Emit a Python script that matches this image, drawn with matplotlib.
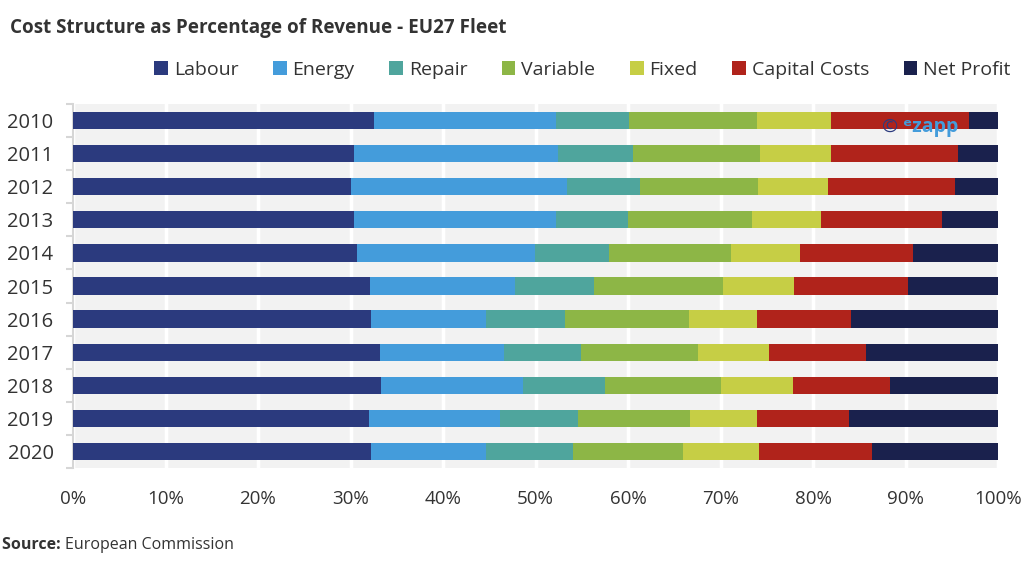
import matplotlib.pyplot as plt
import numpy as np

plt.rcParams['font.family'] = ['Open Sans', 'DejaVu Sans']

years = ["2010", "2011", "2012", "2013", "2014", "2015", "2016", "2017", "2018", "2019", "2020"]

# cumulative end points (%)
labour_end   = [32.5, 30.4, 30.1, 30.4, 30.7, 32.1, 32.2, 33.2, 33.3, 32.0, 32.2]
energy_end   = [52.2, 52.4, 53.4, 52.2, 49.9, 47.8, 44.6, 46.6, 48.6, 46.2, 44.6]
repair_end   = [60.1, 60.5, 61.3, 60.0, 57.9, 56.3, 53.2, 54.9, 57.5, 54.6, 54.1]
variable_end = [73.9, 74.3, 74.0, 73.4, 71.1, 70.3, 66.6, 67.6, 70.1, 66.7, 65.9]
fixed_end    = [81.9, 81.9, 81.6, 80.9, 78.6, 77.9, 73.9, 75.2, 77.8, 73.9, 74.2]
capital_end  = [96.9, 95.7, 95.4, 93.9, 90.8, 90.3, 84.1, 85.7, 88.3, 83.9, 86.4]
total_end    = [100.0] * 11

series = ["Labour", "Energy", "Repair", "Variable", "Fixed", "Capital Costs", "Net Profit"]
colors = ["#2b3a7e", "#449cdb", "#4fa59d", "#8db646", "#c6ce45", "#b0231b", "#1a214d"]

ends = np.array([labour_end, energy_end, repair_end, variable_end, fixed_end, capital_end, total_end])
starts = np.vstack([np.zeros(len(years)), ends[:-1]])
widths = ends - starts

fig = plt.figure(figsize=(10.36, 5.66), dpi=100)
ax = fig.add_axes([73/1036, 1 - 468/566, 925/1036, 364/566])
ax.set_facecolor("#f2f2f2")

y = np.arange(len(years))
for i, name in enumerate(series):
    ax.barh(y, widths[i] / 100, left=starts[i] / 100, height=0.52,
            color=colors[i], label=name, zorder=3)

ax.set_xlim(0, 1)
ax.set_ylim(10.5, -0.5)
ax.set_xticks(np.linspace(0, 1, 11))
ax.set_xticklabels([f"{i*10}%" for i in range(11)], fontsize=13.5, color="#333333")
ax.set_yticks(y)
ax.set_yticklabels(years, fontsize=14.5, color="#333333")
ax.set_yticks(np.arange(-0.5, 11, 1), minor=True)
ax.tick_params(axis="y", which="major", length=0, pad=14)
ax.tick_params(axis="y", which="minor", length=5, color="#d6d6d6", width=1.5)
ax.tick_params(axis="x", length=0, pad=16)
ax.grid(axis="x", color="white", linewidth=2.5, zorder=1)
for s in ["top", "right", "bottom"]:
    ax.spines[s].set_visible(False)
ax.spines["left"].set_color("#d6d6d6")
ax.spines["left"].set_linewidth(1.5)

fig.text(10/1036, 1 - 28/566, "Cost Structure as Percentage of Revenue - EU27 Fleet",
         fontsize=13.6, fontweight="bold", color="#333333", va="center")

fig.legend(loc="center right", bbox_to_anchor=(1028/1036, 1 - 70/566), ncol=7,
           frameon=False, fontsize=14, handlelength=0.7, handleheight=0.7,
           handletextpad=0.3, columnspacing=1.78, labelcolor="#333333")

src = fig.text(2/1036, 1 - 545/566, "Source: ", fontsize=11.5, fontweight="bold",
               color="#333333", va="center")
fig.canvas.draw()
bb = src.get_window_extent(fig.canvas.get_renderer())
fig.text(bb.x1 / fig.bbox.width, 1 - 545/566, "European Commission", fontsize=11.5,
         color="#333333", va="center")

# watermark
fig.text(882/1036, 1 - 127/566, "©", fontsize=14, color="#2b3a7e", va="center")
fig.text(903/1036, 1 - 127/566, "ᵉzapp", fontsize=14, fontweight="bold",
         color="#449cdb", va="center")

plt.savefig("out.png", dpi=100)
